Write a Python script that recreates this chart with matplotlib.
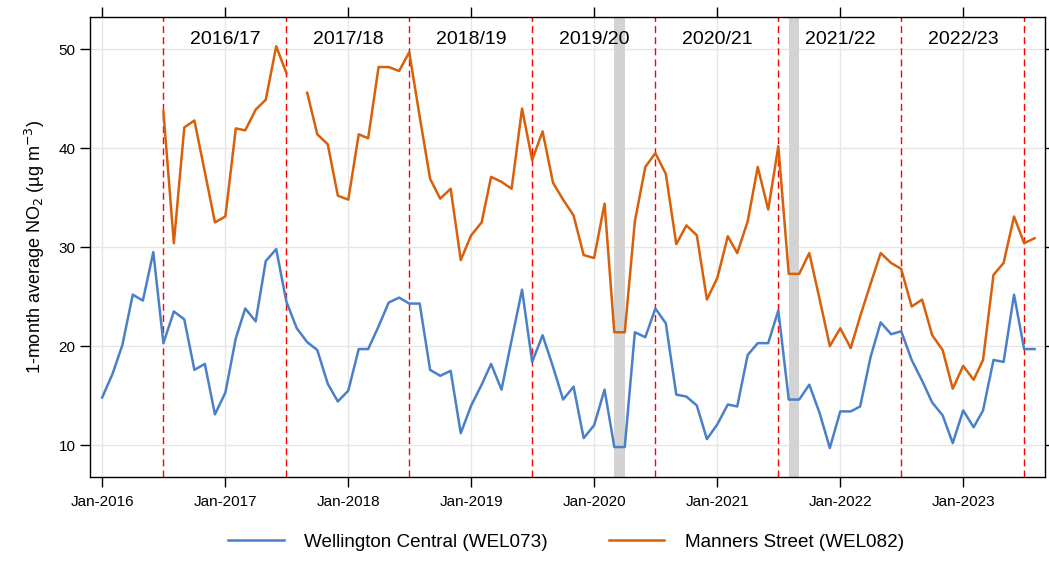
import matplotlib
matplotlib.use("Agg")
import matplotlib.pyplot as plt
import matplotlib.dates as mdates
import numpy as np
import pandas as pd

plt.rcParams['font.family'] = ['Liberation Sans', 'DejaVu Sans']

# meses Jan-2016 .. Aug-2023
meses = pd.date_range("2016-01-01", "2023-08-01", freq="MS")

wel073 = [14.8, 17.2, 20.1, 25.2, 24.6, 29.5, 20.3, 23.5, 22.7, 17.6, 18.2, 13.1,
          15.3, 20.8, 23.8, 22.5, 28.6, 29.8, 24.5, 21.8, 20.4, 19.6, 16.2, 14.4,
          15.5, 19.7, 19.7, 22.0, 24.4, 24.9, 24.3, 24.3, 17.6, 17.0, 17.5, 11.2,
          14.0, 16.1, 18.2, 15.6, 20.6, 25.7, 18.4, 21.1, 17.9, 14.6, 15.9, 10.7,
          12.0, 15.6, 9.8, 9.8, 21.4, 20.9, 23.8, 22.3, 15.1, 14.9, 14.0, 10.6,
          12.1, 14.1, 13.9, 19.1, 20.3, 20.3, 23.6, 14.6, 14.6, 16.1, 13.2, 9.7,
          13.4, 13.4, 13.9, 18.9, 22.4, 21.2, 21.5, 18.6, 16.5, 14.3, 13.0, 10.2,
          13.5, 11.8, 13.5, 18.6, 18.4, 25.2, 19.7, 19.7]

wel082 = [np.nan] * 6 + [
          43.7, 30.4, 42.1, 42.8, 37.6, 32.5,
          33.1, 42.0, 41.8, 43.9, 44.9, 50.3, 47.6, np.nan, 45.6, 41.4, 40.4, 35.2,
          34.8, 41.4, 41.0, 48.2, 48.2, 47.8, 49.7, 43.2, 36.9, 34.9, 35.9, 28.7,
          31.2, 32.5, 37.1, 36.6, 35.9, 44.0, 38.8, 41.7, 36.5, 34.8, 33.2, 29.2,
          28.9, 34.4, 21.4, 21.4, 32.6, 38.1, 39.5, 37.4, 30.3, 32.2, 31.2, 24.7,
          26.9, 31.1, 29.4, 32.6, 38.1, 33.8, 40.2, 27.3, 27.3, 29.4, 24.7, 20.0,
          21.8, 19.8, 23.0, 26.3, 29.4, 28.4, 27.8, 24.0, 24.7, 21.1, 19.6, 15.7,
          18.0, 16.6, 18.6, 27.2, 28.4, 33.1, 30.4, 30.9]

anios = ["2016/17", "2017/18", "2018/19", "2019/20", "2020/21", "2021/22", "2022/23"]
cortes = pd.date_range("2016-07-01", "2023-07-01", freq="12MS")
bandas = [("2020-03-01", "2020-04-01"), ("2021-08-01", "2021-09-01")]

fig = plt.figure(figsize=(10.49, 5.62), dpi=100)
ax = fig.add_axes([0.0858, 0.1512, 0.9104, 0.8186])

# bandas grises (confinamientos)
for a, b in bandas:
    ax.axvspan(pd.Timestamp(a), pd.Timestamp(b), color="#d3d3d3", lw=0, zorder=1)

# lineas de corte de año financiero
for c in cortes:
    ax.axvline(c, color="#ff0000", ls=(0, (5, 3)), lw=1, zorder=2)

l1, = ax.plot(meses, wel073, color="#4a80c8", lw=1.8, zorder=3,
              label="Wellington Central (WEL073)")
l2, = ax.plot(meses, wel082, color="#d9600a", lw=1.8, zorder=3,
              label="Manners Street (WEL082)")

for i, txt in enumerate(anios):
    ax.text(pd.Timestamp(f"{2017 + i}-01-01"), 50.95, txt, ha="center", va="center",
            fontsize=14, zorder=4)

ax.set_xlim(pd.Timestamp("2015-11-26"), pd.Timestamp("2023-09-01"))
ax.set_ylim(6.77, 53.26)
ax.set_yticks([10, 20, 30, 40, 50])
ax.xaxis.set_major_locator(mdates.YearLocator())
ax.xaxis.set_major_formatter(mdates.DateFormatter("%b-%Y"))
ax.grid(True, color="#e6e6e6", lw=1, zorder=0)
ax.set_axisbelow(True)
ax.tick_params(axis="both", direction="out", length=7, width=1, labelsize=11,
               top=True, right=True, colors="black")
ax.tick_params(axis="x", pad=6)
for s in ax.spines.values():
    s.set_linewidth(1)
    s.set_color("black")

ax.set_ylabel("1-month average NO$_2$ (µg m$^{-3}$)", fontsize=13, labelpad=8)

fig.legend(handles=[l1, l2], loc="center", bbox_to_anchor=(0.5396, 0.0356), ncol=2,
           frameon=False, fontsize=13.6, handlelength=2.95, handletextpad=1.1,
           columnspacing=3.2)

fig.savefig("out.png", dpi=100)
